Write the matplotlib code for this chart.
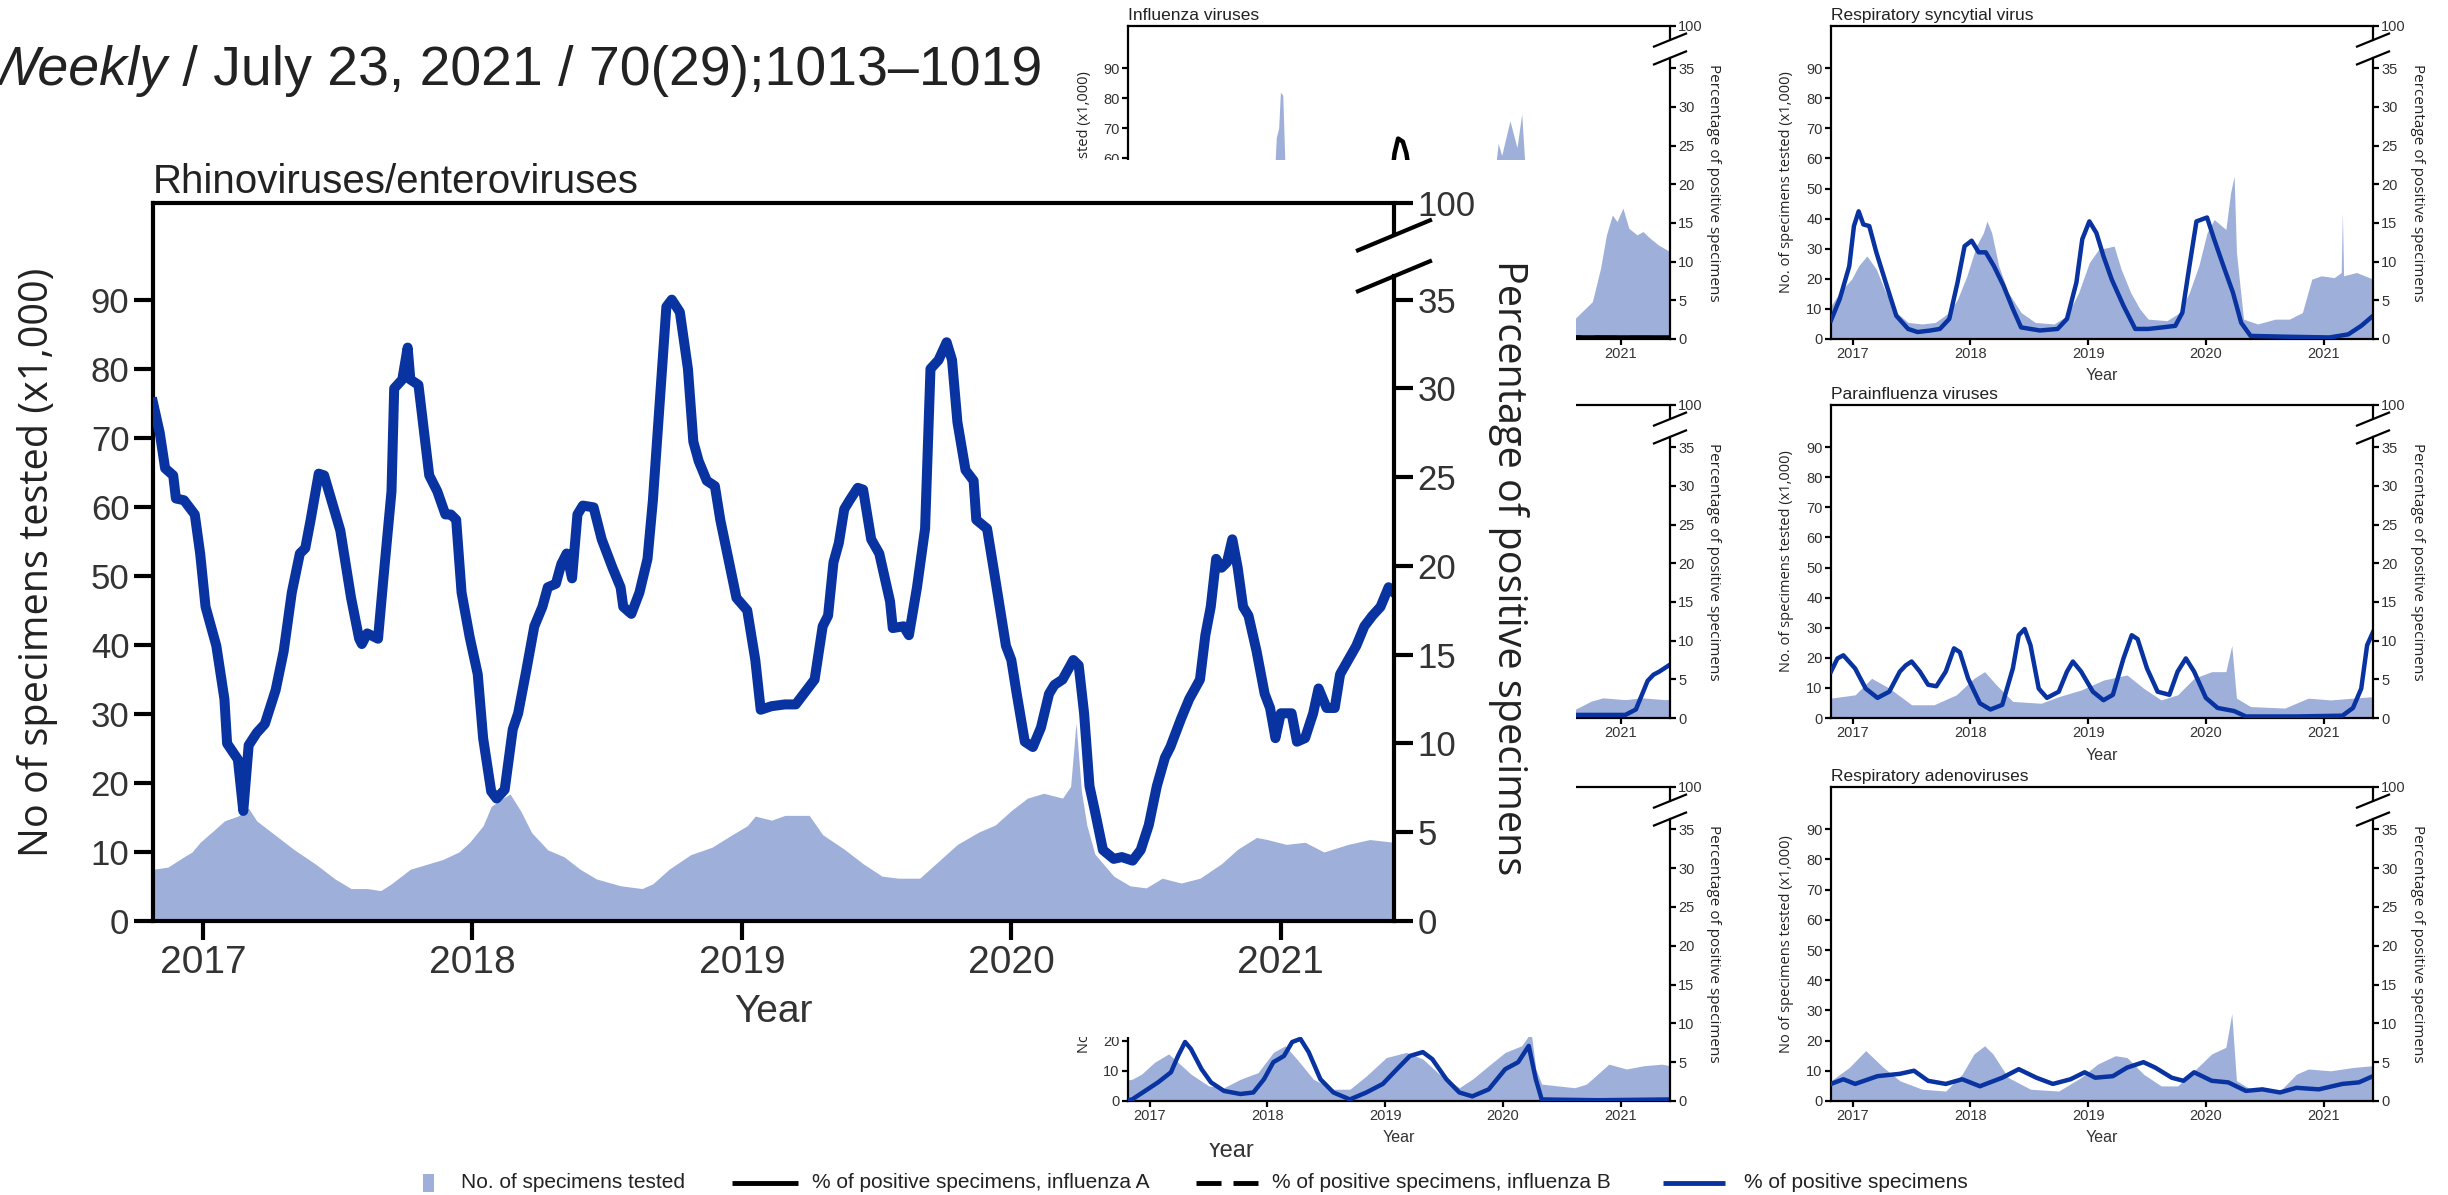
import matplotlib
matplotlib.use('Agg')
import matplotlib.pyplot as plt
from matplotlib.patches import Rectangle
from matplotlib.lines import Line2D
from matplotlib.text import Annotation
from matplotlib.transforms import Bbox

W, H = 2448, 1195
FILL = '#9eb0da'
BLUE = '#0833a0'
SANS = ['Liberation Sans', 'DejaVu Sans']
OPEN = ['Open Sans', 'DejaVu Sans']
plt.rcParams['font.family'] = SANS

X0, X1 = 2016.815, 2021.42
YTOP = 104.0
PTOP = YTOP * 35 / 90
YEARS = [2017, 2018, 2019, 2020, 2021]
LEFT_TICKS = list(range(0, 100, 10))
PCT_TICKS = [0, 5, 10, 15, 20, 25, 30, 35]

# ---- Rhinoviruses/enteroviruses (big panel) ----
rhino_pct_x = [2016.815, 2016.84, 2016.86, 2016.89, 2016.90, 2016.93, 2016.97, 2016.99, 2017.01, 2017.05,
               2017.08, 2017.09, 2017.13, 2017.15, 2017.17, 2017.20, 2017.23, 2017.27, 2017.30, 2017.33,
               2017.36, 2017.38, 2017.40, 2017.43, 2017.45, 2017.51, 2017.55, 2017.58, 2017.59, 2017.61,
               2017.65, 2017.67, 2017.70, 2017.71, 2017.74, 2017.76, 2017.77, 2017.80, 2017.84, 2017.87,
               2017.90, 2017.92, 2017.94, 2017.96, 2017.99, 2018.02, 2018.04, 2018.07, 2018.09, 2018.12,
               2018.15, 2018.17, 2018.20, 2018.23, 2018.26, 2018.28, 2018.31, 2018.33, 2018.35, 2018.37,
               2018.39, 2018.41, 2018.45, 2018.48, 2018.52, 2018.55, 2018.56, 2018.59, 2018.62, 2018.65,
               2018.67, 2018.70, 2018.72, 2018.74, 2018.77, 2018.80, 2018.82, 2018.84, 2018.87, 2018.90,
               2018.92, 2018.95, 2018.98, 2019.02, 2019.05, 2019.07, 2019.11, 2019.16, 2019.20, 2019.23,
               2019.27, 2019.30, 2019.32, 2019.34, 2019.36, 2019.38, 2019.40, 2019.43, 2019.45, 2019.48,
               2019.51, 2019.55, 2019.56, 2019.60, 2019.62, 2019.65, 2019.68, 2019.70, 2019.73, 2019.76,
               2019.78, 2019.80, 2019.83, 2019.86, 2019.87, 2019.91, 2019.94, 2019.98, 2020.00, 2020.02,
               2020.05, 2020.08, 2020.11, 2020.14, 2020.16, 2020.19, 2020.23, 2020.25, 2020.27, 2020.29,
               2020.31, 2020.34, 2020.38, 2020.41, 2020.45, 2020.48, 2020.51, 2020.54, 2020.57, 2020.59,
               2020.63, 2020.66, 2020.70, 2020.72, 2020.74, 2020.76, 2020.78, 2020.80, 2020.82, 2020.84,
               2020.86, 2020.88, 2020.91, 2020.94, 2020.96, 2020.98, 2021.00, 2021.04, 2021.06, 2021.09,
               2021.12, 2021.14, 2021.17, 2021.20, 2021.22, 2021.25, 2021.28, 2021.31, 2021.34, 2021.37,
               2021.40, 2021.42]
rhino_pct = [29.2, 27.5, 25.5, 25.1, 23.8, 23.7, 22.9, 20.7, 17.7, 15.5,
             12.5, 10.0, 9.1, 6.2, 9.9, 10.6, 11.1, 13.0, 15.2, 18.5,
             20.7, 21.0, 22.6, 25.2, 25.1, 22.0, 18.2, 15.9, 15.6, 16.2,
             15.9, 19.3, 24.2, 30.0, 30.5, 32.3, 30.5, 30.2, 25.1, 24.2,
             22.9, 22.9, 22.6, 18.5, 16.0, 13.9, 10.3, 7.3, 6.9, 7.4,
             10.8, 11.7, 14.1, 16.6, 17.7, 18.8, 19.0, 20.1, 20.7, 19.3,
             22.9, 23.4, 23.3, 21.5, 19.9, 18.8, 17.7, 17.3, 18.5, 20.4,
             23.7, 30.2, 34.6, 35.0, 34.3, 31.1, 27.0, 25.9, 24.8, 24.5,
             22.6, 20.4, 18.2, 17.5, 14.7, 11.9, 12.1, 12.2, 12.2, 12.8,
             13.6, 16.6, 17.2, 20.2, 21.3, 23.2, 23.7, 24.4, 24.3, 21.5,
             20.7, 18.0, 16.5, 16.6, 16.1, 18.8, 22.1, 31.1, 31.6, 32.6,
             31.6, 28.1, 25.4, 24.8, 22.6, 22.1, 19.3, 15.5, 14.7, 12.8,
             10.1, 9.8, 10.9, 12.8, 13.3, 13.6, 14.7, 14.4, 11.7, 7.6,
             6.2, 4.0, 3.5, 3.6, 3.4, 4.0, 5.4, 7.6, 9.2, 9.8,
             11.4, 12.5, 13.6, 16.1, 17.7, 20.4, 19.9, 20.2, 21.5, 19.9,
             17.7, 17.2, 15.2, 12.8, 12.0, 10.3, 11.7, 11.7, 10.1, 10.3,
             11.7, 13.1, 12.0, 12.0, 13.9, 14.7, 15.5, 16.6, 17.2, 17.7,
             18.8, 18.5]
rhino_tests_x = [2016.815, 2016.87, 2016.93, 2016.96, 2016.99, 2017.04, 2017.08, 2017.13, 2017.17, 2017.20,
                 2017.27, 2017.34, 2017.42, 2017.49, 2017.55, 2017.61, 2017.66, 2017.70, 2017.77, 2017.83,
                 2017.89, 2017.95, 2017.99, 2018.04, 2018.07, 2018.11, 2018.14, 2018.18, 2018.22, 2018.28,
                 2018.34, 2018.40, 2018.46, 2018.55, 2018.63, 2018.67, 2018.73, 2018.81, 2018.89, 2018.96,
                 2019.02, 2019.05, 2019.11, 2019.16, 2019.25, 2019.30, 2019.38, 2019.45, 2019.52, 2019.58,
                 2019.66, 2019.72, 2019.80, 2019.88, 2019.94, 2020.00, 2020.06, 2020.12, 2020.19, 2020.22,
                 2020.24, 2020.26, 2020.28, 2020.31, 2020.38, 2020.44, 2020.50, 2020.56, 2020.63, 2020.70,
                 2020.78, 2020.84, 2020.91, 2020.95, 2021.02, 2021.09, 2021.16, 2021.25, 2021.33, 2021.42]
rhino_tests = [7.5, 7.8, 9.3, 10.0, 11.4, 13.1, 14.5, 15.2, 16.3, 14.5,
               12.4, 10.3, 8.2, 6.1, 4.7, 4.7, 4.4, 5.4, 7.5, 8.2,
               8.9, 10.0, 11.4, 13.8, 16.6, 17.7, 18.4, 15.9, 12.8, 10.3,
               9.3, 7.5, 6.1, 5.1, 4.7, 5.4, 7.5, 9.6, 10.7, 12.4,
               13.8, 15.2, 14.6, 15.3, 15.3, 12.5, 10.4, 8.3, 6.5, 6.2,
               6.2, 8.3, 11.1, 12.9, 13.9, 16.0, 17.8, 18.5, 17.8, 19.5,
               28.7, 18.8, 13.9, 9.7, 6.5, 5.1, 4.8, 6.2, 5.5, 6.2,
               8.3, 10.4, 12.1, 11.8, 11.1, 11.4, 10.0, 11.1, 11.8, 11.4]

# ---- Influenza viruses ----
flu_tests_x = [2016.815, 2017.10, 2017.40, 2017.70, 2017.95, 2018.06, 2018.075, 2018.095, 2018.11, 2018.13,
               2018.15, 2018.25, 2018.60, 2018.90, 2019.10, 2019.30, 2019.60, 2019.85, 2019.94, 2019.96,
               2019.99, 2020.06, 2020.12, 2020.16, 2020.19, 2020.25, 2020.45, 2020.60, 2020.76, 2020.83,
               2020.88, 2020.93, 2020.97, 2021.02, 2021.07, 2021.14, 2021.19, 2021.25, 2021.32, 2021.42]
flu_tests = [12, 45, 15, 8, 40, 55, 67, 70, 82, 81,
             56, 40, 8, 25, 50, 40, 10, 35, 58, 65,
             61, 72.5, 63.6, 74.8, 56, 30, 8, 6.3, 12.4, 23.5,
             34.6, 41.2, 39.0, 43.5, 36.8, 34.6, 35.7, 33.5, 31.3, 29.0]
flu_a_x = [2016.815, 2017.10, 2017.50, 2017.90, 2018.10, 2018.40, 2018.70, 2018.95, 2019.05, 2019.08,
           2019.11, 2019.15, 2019.18, 2019.22, 2019.40, 2019.70, 2019.95, 2020.10, 2020.25, 2020.35,
           2020.60, 2021.42]
flu_a = [1, 15, 2, 8, 21, 5, 1, 10, 20, 24,
         25.9, 25.5, 24, 20, 8, 1, 12, 18, 5, 0.5,
         0.2, 0.2]
flu_b_x = [2016.815, 2017.20, 2017.60, 2018.20, 2018.60, 2019.20, 2019.60, 2020.10, 2020.30, 2020.45, 2021.42]
flu_b = [0.5, 5, 1, 10, 1, 3, 0.5, 15, 2, 0.2, 0.1]

# ---- Respiratory syncytial virus ----
rsv_pct_x = [2016.815, 2016.89, 2016.97, 2017.01, 2017.05, 2017.09, 2017.14, 2017.20, 2017.28, 2017.37,
             2017.47, 2017.55, 2017.66, 2017.74, 2017.82, 2017.89, 2017.95, 2018.01, 2018.07, 2018.13,
             2018.20, 2018.28, 2018.36, 2018.43, 2018.59, 2018.74, 2018.82, 2018.90, 2018.95, 2019.01,
             2019.07, 2019.13, 2019.20, 2019.30, 2019.40, 2019.51, 2019.63, 2019.74, 2019.80, 2019.86,
             2019.92, 2020.01, 2020.07, 2020.15, 2020.23, 2020.30, 2020.38, 2020.67, 2021.05, 2021.21,
             2021.32, 2021.42]
rsv_pct = [2.4, 5.2, 9.4, 14.6, 16.5, 14.8, 14.6, 11.2, 7.3, 3.0,
           1.3, 0.9, 1.1, 1.3, 2.6, 7.3, 12.0, 12.7, 11.2, 11.2,
           9.4, 6.9, 3.9, 1.5, 1.1, 1.3, 2.6, 7.3, 12.9, 15.2,
           13.7, 10.7, 7.7, 4.3, 1.3, 1.3, 1.5, 1.7, 3.4, 9.4,
           15.2, 15.7, 12.9, 9.4, 6.0, 2.1, 0.4, 0.3, 0.2, 0.6,
           1.7, 3.0]
rsv_tests_x = [2016.815, 2016.89, 2016.99, 2017.05, 2017.12, 2017.20, 2017.28, 2017.37, 2017.47, 2017.59,
               2017.70, 2017.82, 2017.89, 2017.97, 2018.05, 2018.11, 2018.14, 2018.18, 2018.24, 2018.32,
               2018.43, 2018.55, 2018.71, 2018.82, 2018.92, 2019.01, 2019.09, 2019.17, 2019.22, 2019.28,
               2019.36, 2019.44, 2019.51, 2019.67, 2019.78, 2019.86, 2019.94, 2020.01, 2020.07, 2020.17,
               2020.21, 2020.24, 2020.26, 2020.32, 2020.44, 2020.59, 2020.71, 2020.82, 2020.90, 2020.98,
               2021.09, 2021.15, 2021.16, 2021.17, 2021.28, 2021.42]
rsv_tests = [11.0, 15.5, 19.9, 24.3, 27.6, 23.2, 15.5, 8.8, 5.5, 5.0,
             5.5, 8.8, 13.2, 21.0, 30.9, 35.3, 39.2, 35.3, 24.3, 15.5,
             8.8, 5.5, 5.0, 7.7, 15.5, 25.4, 29.8, 30.4, 30.9, 23.2,
             15.5, 9.9, 6.6, 6.1, 8.8, 15.5, 24.3, 35.3, 39.7, 36.4,
             48.6, 54.1, 28.7, 6.6, 5.0, 6.6, 6.6, 8.8, 19.9, 21.0,
             20.4, 22.1, 41.9, 21.0, 22.1, 19.9]

# ---- Parainfluenza viruses ----
piv_pct_x = [2016.815, 2016.87, 2016.92, 2017.02, 2017.11, 2017.21, 2017.31, 2017.40, 2017.45, 2017.50,
             2017.57, 2017.64, 2017.71, 2017.79, 2017.86, 2017.91, 2017.98, 2018.08, 2018.17, 2018.27,
             2018.36, 2018.41, 2018.46, 2018.51, 2018.58, 2018.65, 2018.75, 2018.82, 2018.87, 2018.94,
             2019.04, 2019.13, 2019.21, 2019.30, 2019.37, 2019.42, 2019.50, 2019.59, 2019.69, 2019.76,
             2019.83, 2019.90, 2020.00, 2020.10, 2020.24, 2020.34, 2020.77, 2021.16, 2021.25, 2021.32,
             2021.37, 2021.42]
piv_pct = [6.0, 7.7, 8.1, 6.4, 3.8, 2.6, 3.4, 6.0, 6.8, 7.3,
           6.0, 4.3, 4.1, 6.0, 9.0, 8.5, 5.1, 1.9, 1.1, 1.7,
           6.4, 10.7, 11.5, 9.4, 3.8, 2.6, 3.4, 6.0, 7.3, 6.0,
           3.4, 2.3, 3.0, 7.7, 10.7, 10.2, 6.4, 3.4, 3.0, 6.0,
           7.7, 6.0, 2.6, 1.3, 0.9, 0.2, 0.2, 0.3, 1.3, 3.8,
           9.4, 11.1]
piv_tests_x = [2016.815, 2017.02, 2017.16, 2017.31, 2017.50, 2017.69, 2017.88, 2018.03, 2018.12, 2018.22,
               2018.36, 2018.60, 2018.75, 2018.94, 2019.13, 2019.33, 2019.47, 2019.62, 2019.76, 2019.90,
               2020.05, 2020.17, 2020.22, 2020.26, 2020.38, 2020.67, 2020.87, 2021.06, 2021.25, 2021.42]
piv_tests = [6.6, 7.7, 13.2, 9.9, 4.4, 4.4, 7.7, 13.2, 15.4, 11.0,
             5.5, 4.9, 7.1, 9.3, 12.6, 14.3, 9.9, 6.0, 7.7, 13.2,
             15.4, 15.4, 24.1, 6.6, 3.8, 3.3, 6.6, 6.0, 6.6, 7.1]

# ---- Respiratory adenoviruses ----
adv_pct_x = [2016.815, 2016.92, 2017.02, 2017.21, 2017.40, 2017.52, 2017.64, 2017.79, 2017.93, 2018.08,
             2018.27, 2018.41, 2018.56, 2018.70, 2018.85, 2018.97, 2019.06, 2019.21, 2019.33, 2019.47,
             2019.57, 2019.71, 2019.81, 2019.90, 2020.05, 2020.19, 2020.34, 2020.48, 2020.63, 2020.77,
             2020.96, 2021.16, 2021.30, 2021.42]
adv_pct = [2.2, 2.8, 2.2, 3.2, 3.5, 3.9, 2.6, 2.2, 2.8, 1.9,
           3.0, 4.1, 3.0, 2.2, 2.8, 3.7, 3.0, 3.2, 4.3, 5.0,
           4.3, 3.0, 2.6, 3.7, 2.6, 2.4, 1.3, 1.5, 1.1, 1.7,
           1.5, 2.2, 2.4, 3.2]
adv_tests_x = [2016.815, 2016.97, 2017.11, 2017.26, 2017.40, 2017.59, 2017.79, 2017.93, 2018.03, 2018.12,
               2018.19, 2018.32, 2018.51, 2018.75, 2018.94, 2019.08, 2019.23, 2019.33, 2019.47, 2019.62,
               2019.76, 2019.90, 2020.05, 2020.17, 2020.22, 2020.26, 2020.38, 2020.63, 2020.77, 2020.87,
               2021.06, 2021.25, 2021.42]
adv_tests = [6.7, 11.1, 16.7, 11.1, 6.7, 3.9, 3.3, 8.9, 15.6, 18.3,
             15.6, 7.8, 3.9, 3.3, 7.8, 12.2, 15.0, 14.4, 8.9, 5.0,
             5.0, 10.0, 15.6, 17.8, 28.9, 6.7, 3.9, 3.3, 8.9, 10.6,
             10.0, 11.1, 11.7]

# ---- middle-left panel (only the right end shows) ----
mid_tests_x = [2020.55, 2020.61, 2020.75, 2020.85, 2021.04, 2021.18, 2021.38, 2021.42]
mid_tests = [2.5, 2.8, 5.6, 6.7, 6.1, 6.7, 6.1, 6.2]
mid_pct_x = [2020.55, 2021.04, 2021.13, 2021.23, 2021.28, 2021.33, 2021.42]
mid_pct = [0.4, 0.4, 1.1, 4.8, 5.6, 6.0, 6.9]

# ---- bottom-left panel (partly hidden) ----
cov_tests_x = [2016.815, 2016.85, 2016.93, 2017.04, 2017.16, 2017.24, 2017.35, 2017.50, 2017.63, 2017.77,
               2017.92, 2018.05, 2018.15, 2018.25, 2018.39, 2018.56, 2018.70, 2018.84, 2019.01, 2019.18,
               2019.32, 2019.46, 2019.63, 2019.74, 2019.88, 2020.02, 2020.16, 2020.22, 2020.24, 2020.28,
               2020.33, 2020.47, 2020.61, 2020.71, 2020.82, 2020.90, 2021.05, 2021.20, 2021.35, 2021.42]
cov_tests = [7.0, 7.2, 8.9, 12.8, 15.6, 12.8, 8.9, 5.0, 4.4, 7.2,
             9.4, 16.1, 18.3, 13.9, 7.2, 3.9, 3.9, 8.3, 14.4, 16.1,
             13.9, 8.9, 4.4, 7.2, 11.7, 16.1, 18.3, 21.7, 22.8, 10.6,
             5.6, 5.0, 4.4, 5.6, 9.4, 12.2, 10.6, 11.7, 12.2, 11.7]
cov_pct_x = [2016.815, 2016.85, 2016.96, 2017.07, 2017.18, 2017.24, 2017.30, 2017.35, 2017.44, 2017.52,
             2017.63, 2017.77, 2017.88, 2017.97, 2018.05, 2018.14, 2018.21, 2018.28, 2018.35, 2018.45,
             2018.56, 2018.70, 2018.84, 2018.98, 2019.10, 2019.21, 2019.32, 2019.40, 2019.52, 2019.63,
             2019.74, 2019.88, 2020.02, 2020.13, 2020.22, 2020.28, 2020.33, 2020.81, 2021.42]
cov_pct = [0.1, 0.2, 1.3, 2.4, 3.7, 5.8, 7.6, 6.7, 4.1, 2.4,
           1.3, 0.9, 1.1, 2.8, 5.0, 5.8, 7.6, 8.0, 6.3, 2.8,
           1.1, 0.2, 1.1, 2.2, 4.1, 5.8, 6.3, 5.4, 2.8, 1.1,
           0.6, 1.5, 4.1, 5.0, 7.1, 2.8, 0.2, 0.1, 0.2]

BIG = dict(lw=3.0, tl=14, yt=25, xt=28, pad=3, line=7.2, sw=36, sh=15)
SMALL = dict(lw=1.6, tl=4.5, yt=10.5, xt=10.5, pad=1.5, line=3.2, sw=16, sh=6.5)

fig = plt.figure(figsize=(W / 100, H / 100), dpi=100)


def fx(x):
    return x / W


def fy(y):
    return 1 - y / H


def panel(box, sz, z, year_labels=None):
    l, t, r, b = box
    ax = fig.add_axes([l / W, 1 - b / H, (r - l) / W, (b - t) / H], zorder=z)
    ax.set_xlim(X0, X1)
    ax.set_ylim(0, YTOP)
    ax.set_xticks(YEARS)
    ax.set_xticklabels(year_labels or [str(y) for y in YEARS])
    ax.set_yticks(LEFT_TICKS)
    ax.tick_params(direction='out', length=sz['tl'], width=sz['lw'], pad=sz['pad'], color='black')
    ax.tick_params(axis='x', labelsize=sz['xt'], labelcolor='#333333')
    ax.tick_params(axis='y', labelsize=sz['yt'], labelcolor='#333333')
    for s in ['top', 'bottom', 'left']:
        ax.spines[s].set_linewidth(sz['lw'])
    ax.spines['right'].set_visible(False)
    ax2 = ax.twinx()
    ax2.set_zorder(z + 0.5)
    ax2.set_ylim(0, PTOP)
    ax2.set_yticks(PCT_TICKS + [PTOP])
    ax2.set_yticklabels([str(v) for v in PCT_TICKS] + ['100'])
    ax2.tick_params(direction='out', length=sz['tl'], width=sz['lw'], pad=sz['pad'],
                    labelsize=sz['yt'], labelcolor='#333333')
    for s in ['top', 'bottom', 'left']:
        ax2.spines[s].set_visible(False)
    ax2.spines['right'].set_linewidth(sz['lw'])
    ax2.spines['right'].set_bounds(0, 0.898 * PTOP)
    ax2.plot([1, 1], [0.955, 1.0], transform=ax2.transAxes, color='black', lw=sz['lw'],
             clip_on=False, solid_capstyle='butt')
    wpx, hpx = r - l, b - t
    hw, hh = sz['sw'] / wpx, sz['sh'] / hpx
    for yc in [0.955, 0.898]:
        ax2.plot([1 - hw, 1 + hw], [yc - hh, yc + hh], transform=ax2.transAxes, color='black',
                 lw=sz['lw'], clip_on=False)
    return ax, ax2


def labels(box, left, title, z, big=False, year=True):
    l, t, r, b = box
    if big:
        fig.text(fx(38), fy((t + b) / 2), left, rotation=90, ha='center', va='center',
                 family=OPEN, fontsize=28.5, color='#222222', zorder=z)
        fig.text(fx(1509), fy((t + b) / 2 + 6), 'Percentage of positive specimens', rotation=270,
                 ha='center', va='center', family=OPEN, fontsize=28.5, color='#222222', zorder=z)
        fig.text(fx((l + r) / 2), fy(1012), 'Year', ha='center', va='center', fontsize=28,
                 color='#333333', zorder=z)
        fig.text(fx(l), fy(t - 10), title, ha='left', va='baseline', fontsize=29,
                 color='#222222', zorder=z)
        return
    fig.text(fx(l - 44), fy((t + b) / 2), left, rotation=90, ha='center', va='center',
             family=OPEN, fontsize=10.5, color='#222222', zorder=z)
    fig.text(fx(r + 44), fy((t + b) / 2), 'Percentage of positive specimens', rotation=270,
             ha='center', va='center', family=OPEN, fontsize=11, color='#222222', zorder=z)
    if year:
        fig.text(fx((l + r) / 2), fy(b + 37), 'Year', ha='center', va='center', fontsize=11.5,
                 color='#333333', zorder=z)
    if title:
        fig.text(fx(l), fy(t - 3), title, ha='left', va='bottom', fontsize=12.5,
                 color='#222222', zorder=z)


LBOX = [(1128, 26, 1670, 339), (1128, 405, 1670, 718), (1128, 787, 1670, 1101)]
RBOX = [(1831, 26, 2373, 339), (1831, 405, 2373, 718), (1831, 787, 2373, 1101)]
ONLY_2021 = ['', '', '', '', '2021']   # the others sit under the big panel

# influenza
ax, ax2 = panel(LBOX[0], SMALL, 1, ONLY_2021)
ax.fill_between(flu_tests_x, flu_tests, 0, color=FILL, lw=0)
ax2.plot(flu_a_x, flu_a, color='black', lw=SMALL['line'])
ax2.plot(flu_b_x, flu_b, color='black', lw=SMALL['line'], dashes=(5, 3))
labels(LBOX[0], 'No. of specimens tested (x1,000)', 'Influenza viruses', 2, year=False)

# middle-left
ax, ax2 = panel(LBOX[1], SMALL, 1, ONLY_2021)
ax.fill_between(mid_tests_x, mid_tests, 0, color=FILL, lw=0)
ax2.plot(mid_pct_x, mid_pct, color=BLUE, lw=SMALL['line'])
labels(LBOX[1], 'No. of specimens tested (x1,000)', None, 2, year=False)

# bottom-left
ax, ax2 = panel(LBOX[2], SMALL, 1)
ax.fill_between(cov_tests_x, cov_tests, 0, color=FILL, lw=0)
ax2.plot(cov_pct_x, cov_pct, color=BLUE, lw=SMALL['line'])
labels(LBOX[2], 'No of specimens tested (x1,000)', None, 2)

# right column
for box, tx, ty, px_, py, lab, title in [
        (RBOX[0], rsv_tests_x, rsv_tests, rsv_pct_x, rsv_pct, 'No. of specimens tested (x1,000)',
         'Respiratory syncytial virus'),
        (RBOX[1], piv_tests_x, piv_tests, piv_pct_x, piv_pct, 'No. of specimens tested (x1,000)',
         'Parainfluenza viruses'),
        (RBOX[2], adv_tests_x, adv_tests, adv_pct_x, adv_pct, 'No of specimens tested (x1,000)',
         'Respiratory adenoviruses')]:
    ax, ax2 = panel(box, SMALL, 1)
    ax.fill_between(tx, ty, 0, color=FILL, lw=0)
    ax2.plot(px_, py, color=BLUE, lw=SMALL['line'])
    labels(box, lab, title, 2)

# white sheet that the big panel sits on
fig.add_artist(Rectangle((0, fy(1037)), fx(1576), (1037 - 160) / H, transform=fig.transFigure,
                         facecolor='white', edgecolor='none', zorder=5))

# big panel
BBOX = (153, 203, 1394, 921)
ax, ax2 = panel(BBOX, BIG, 10)
ax.fill_between(rhino_tests_x, rhino_tests, 0, color=FILL, lw=0)
ax2.plot(rhino_pct_x, rhino_pct, color=BLUE, lw=BIG['line'], solid_joinstyle='round')
labels(BBOX, 'No of specimens tested (x1,000)', 'Rhinoviruses/enteroviruses', 20, big=True)

# stray clipped "Year"
t = fig.text(fx(1230), fy(1157), 'Year', ha='center', va='baseline', fontsize=17, color='#333333')
t.set_clip_on(True)
t.set_clip_box(Bbox.from_extents(1150, H - 1170, 1320, H - 1143))

# header line
t1 = fig.text(fx(-14), fy(85), 'Weekly', style='italic', fontsize=40, color='#222222',
              ha='left', va='baseline')
fig.add_artist(Annotation(' / July 23, 2021 / 70(29);1013\u20131019', xy=(1, 0), xycoords=t1,
                          va='bottom', ha='left', fontsize=40, color='#222222'))

# legend row
LY = 1183
fig.add_artist(Rectangle((fx(423), fy(LY + 9)), 11 / W, 18 / H, transform=fig.transFigure,
                         facecolor=FILL, edgecolor='none'))
fig.add_artist(Line2D([fx(732), fx(798)], [fy(LY)] * 2, transform=fig.transFigure,
                      color='black', lw=3.5, solid_capstyle='butt'))
for a, b in [(1196, 1221), (1233, 1258)]:
    fig.add_artist(Line2D([fx(a), fx(b)], [fy(LY)] * 2, transform=fig.transFigure,
                          color='black', lw=3.5, solid_capstyle='butt'))
fig.add_artist(Line2D([fx(1663), fx(1725)], [fy(LY)] * 2, transform=fig.transFigure,
                      color=BLUE, lw=3.5, solid_capstyle='butt'))
for x, s in [(461, 'No. of specimens tested'), (812, '% of positive specimens, influenza A'),
             (1272, '% of positive specimens, influenza B'), (1744, '% of positive specimens')]:
    fig.text(fx(x), fy(LY), s, ha='left', va='center', fontsize=15, color='#222222')

fig.savefig('out.png', dpi=100, facecolor='white')
